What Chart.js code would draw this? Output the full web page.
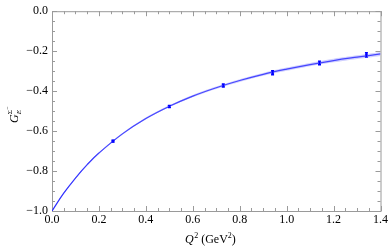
<!DOCTYPE html>
<html>
<head>
<meta charset="utf-8">
<script src="https://cdn.jsdelivr.net/npm/chart.js@4"></script>
<style>
  html, body { margin: 0; padding: 0; background: #fff; }
  #wrap { width: 390px; height: 250px; }
</style>
</head>
<body>
<div id="wrap"><canvas id="c" width="390" height="250"></canvas></div>
<script>
// lattice points
const pointQ2 = [0.26, 0.50, 0.73, 0.94, 1.14, 1.34];
const pointG = [-0.650, -0.477, -0.372, -0.308, -0.259, -0.219];
const pointErr = [0.005, 0.006, 0.008, 0.010, 0.009, 0.011];

// fitted curve + band
const curveQ2 = [0, 0.05, 0.1, 0.15, 0.2, 0.3, 0.4, 0.5, 0.6, 0.7, 0.8, 0.9, 1.0, 1.1, 1.2, 1.3, 1.4];
const curveG = [-1.0, -0.911, -0.835, -0.768, -0.710, -0.614, -0.537, -0.476, -0.425, -0.383, -0.347, -0.316, -0.290, -0.267, -0.247, -0.230, -0.214];
const bandLo = [-1.0, -0.912, -0.837, -0.770, -0.713, -0.618, -0.542, -0.481, -0.431, -0.389, -0.354, -0.323, -0.298, -0.275, -0.256, -0.239, -0.224];
const bandHi = [-1.0, -0.910, -0.833, -0.766, -0.707, -0.610, -0.532, -0.471, -0.419, -0.377, -0.340, -0.309, -0.282, -0.259, -0.238, -0.221, -0.204];

const xTicks = [0.0, 0.2, 0.4, 0.6, 0.8, 1.0, 1.2, 1.4];
const yTicks = [0.0, -0.2, -0.4, -0.6, -0.8, -1.0];

const serif = "'Liberation Serif', 'DejaVu Serif', serif";
const frameCol = "#9a9a9a";

const xy = (xs, ys) => xs.map((x, i) => ({ x: x, y: ys[i] }));

// frame, inward ticks, error bars, axis labels
const decor = {
  id: "decor",
  beforeDatasetsDraw(chart) {
    const { ctx, chartArea: a, scales: { x, y } } = chart;
    ctx.save();
    ctx.strokeStyle = frameCol;
    ctx.lineWidth = 1;
    ctx.strokeRect(a.left + 0.5, a.top + 0.5, a.right - a.left, a.bottom - a.top);
    ctx.beginPath();
    for (let v = 0; v <= 1.4001; v += 0.05) {
      const major = Math.abs(v / 0.2 - Math.round(v / 0.2)) < 1e-6;
      const len = major ? 5 : 3;
      const px = Math.round(x.getPixelForValue(v)) + 0.5;
      ctx.moveTo(px, a.bottom); ctx.lineTo(px, a.bottom - len);
      ctx.moveTo(px, a.top); ctx.lineTo(px, a.top + len);
    }
    for (let v = -1; v <= 0.0001; v += 0.05) {
      const major = Math.abs(v / 0.2 - Math.round(v / 0.2)) < 1e-6;
      const len = major ? 5 : 3;
      const py = Math.round(y.getPixelForValue(v)) + 0.5;
      ctx.moveTo(a.left, py); ctx.lineTo(a.left + len, py);
      ctx.moveTo(a.right, py); ctx.lineTo(a.right - len, py);
    }
    ctx.stroke();
    ctx.restore();
  },
  afterDatasetsDraw(chart) {
    const { ctx, scales: { x, y } } = chart;
    ctx.save();
    ctx.strokeStyle = "#0000ff";
    ctx.lineWidth = 1.3;
    ctx.beginPath();
    pointQ2.forEach((q, i) => {
      const px = x.getPixelForValue(q);
      const y1 = y.getPixelForValue(pointG[i] - pointErr[i]);
      const y2 = y.getPixelForValue(pointG[i] + pointErr[i]);
      ctx.moveTo(px, y1); ctx.lineTo(px, y2);
      ctx.moveTo(px - 1.5, y1); ctx.lineTo(px + 1.5, y1);
      ctx.moveTo(px - 1.5, y2); ctx.lineTo(px + 1.5, y2);
    });
    ctx.stroke();

    // axis titles
    ctx.fillStyle = "#000";
    ctx.textBaseline = "alphabetic";
    // x title: Q^2 (GeV^2)
    let cx = 185, cy = 243;
    ctx.font = "italic 12px " + serif;
    ctx.fillText("Q", cx, cy); cx += ctx.measureText("Q").width + 0.5;
    ctx.font = "8px " + serif;
    ctx.fillText("2", cx, cy - 5); cx += ctx.measureText("2").width + 3;
    ctx.font = "12px " + serif;
    ctx.fillText("(GeV", cx, cy); cx += ctx.measureText("(GeV").width;
    ctx.font = "8px " + serif;
    ctx.fillText("2", cx, cy - 5); cx += ctx.measureText("2").width;
    ctx.font = "12px " + serif;
    ctx.fillText(")", cx, cy);

    // y title: G_E^{Sigma-}
    ctx.translate(18, 123);
    ctx.rotate(-Math.PI / 2);
    ctx.font = "italic 12px " + serif;
    ctx.fillText("G", 0, 0);
    const gw = ctx.measureText("G").width;
    ctx.font = "italic 7px " + serif;
    ctx.fillText("E", gw, 3);
    ctx.font = "7px " + serif;
    ctx.fillText("\u03A3", gw, -6);
    ctx.font = "6px " + serif;
    ctx.fillText("\u2212", gw + 4.5, -9);
    ctx.restore();
  }
};

new Chart(document.getElementById("c"), {
  type: "scatter",
  data: {
    datasets: [
      {
        data: xy(curveQ2, bandLo),
        showLine: true,
        borderWidth: 0,
        pointRadius: 0,
        borderColor: "rgba(0,0,0,0)",
        tension: 0.4
      },
      {
        data: xy(curveQ2, bandHi),
        showLine: true,
        borderWidth: 0,
        pointRadius: 0,
        borderColor: "rgba(0,0,0,0)",
        backgroundColor: "rgba(120,120,255,0.35)",
        fill: "-1",
        tension: 0.4
      },
      {
        data: xy(curveQ2, curveG),
        showLine: true,
        borderColor: "#2a2aff",
        borderWidth: 1.2,
        pointRadius: 0,
        tension: 0.4
      },
      {
        data: xy(pointQ2, pointG),
        pointStyle: "rect",
        pointRadius: 2,
        backgroundColor: "#0000ff",
        borderColor: "#0000ff",
        borderWidth: 0
      }
    ]
  },
  options: {
    responsive: false,
    animation: false,
    layout: { padding: { top: 6, right: 9, left: 0, bottom: 0 } },
    plugins: { legend: { display: false }, tooltip: { enabled: false } },
    scales: {
      x: {
        type: "linear",
        min: 0, max: 1.4,
        afterFit(s) { s.height = 39; },
        afterBuildTicks(s) { s.ticks = xTicks.map(v => ({ value: v })); },
        grid: { display: false, drawTicks: false },
        border: { display: false },
        ticks: {
          padding: 2,
          color: "#000",
          font: { family: serif, size: 12 },
          maxRotation: 0,
          callback: v => v.toFixed(1)
        }
      },
      y: {
        type: "linear",
        min: -1, max: 0,
        afterFit(s) { s.width = 52; },
        afterBuildTicks(s) { s.ticks = yTicks.map(v => ({ value: v })); },
        grid: { display: false, drawTicks: false },
        border: { display: false },
        ticks: {
          padding: 4,
          color: "#000",
          font: { family: serif, size: 12 },
          callback: v => (v < 0 ? "\u2212" : "") + Math.abs(v).toFixed(1)
        }
      }
    }
  },
  plugins: [decor]
});
</script>
</body>
</html>
